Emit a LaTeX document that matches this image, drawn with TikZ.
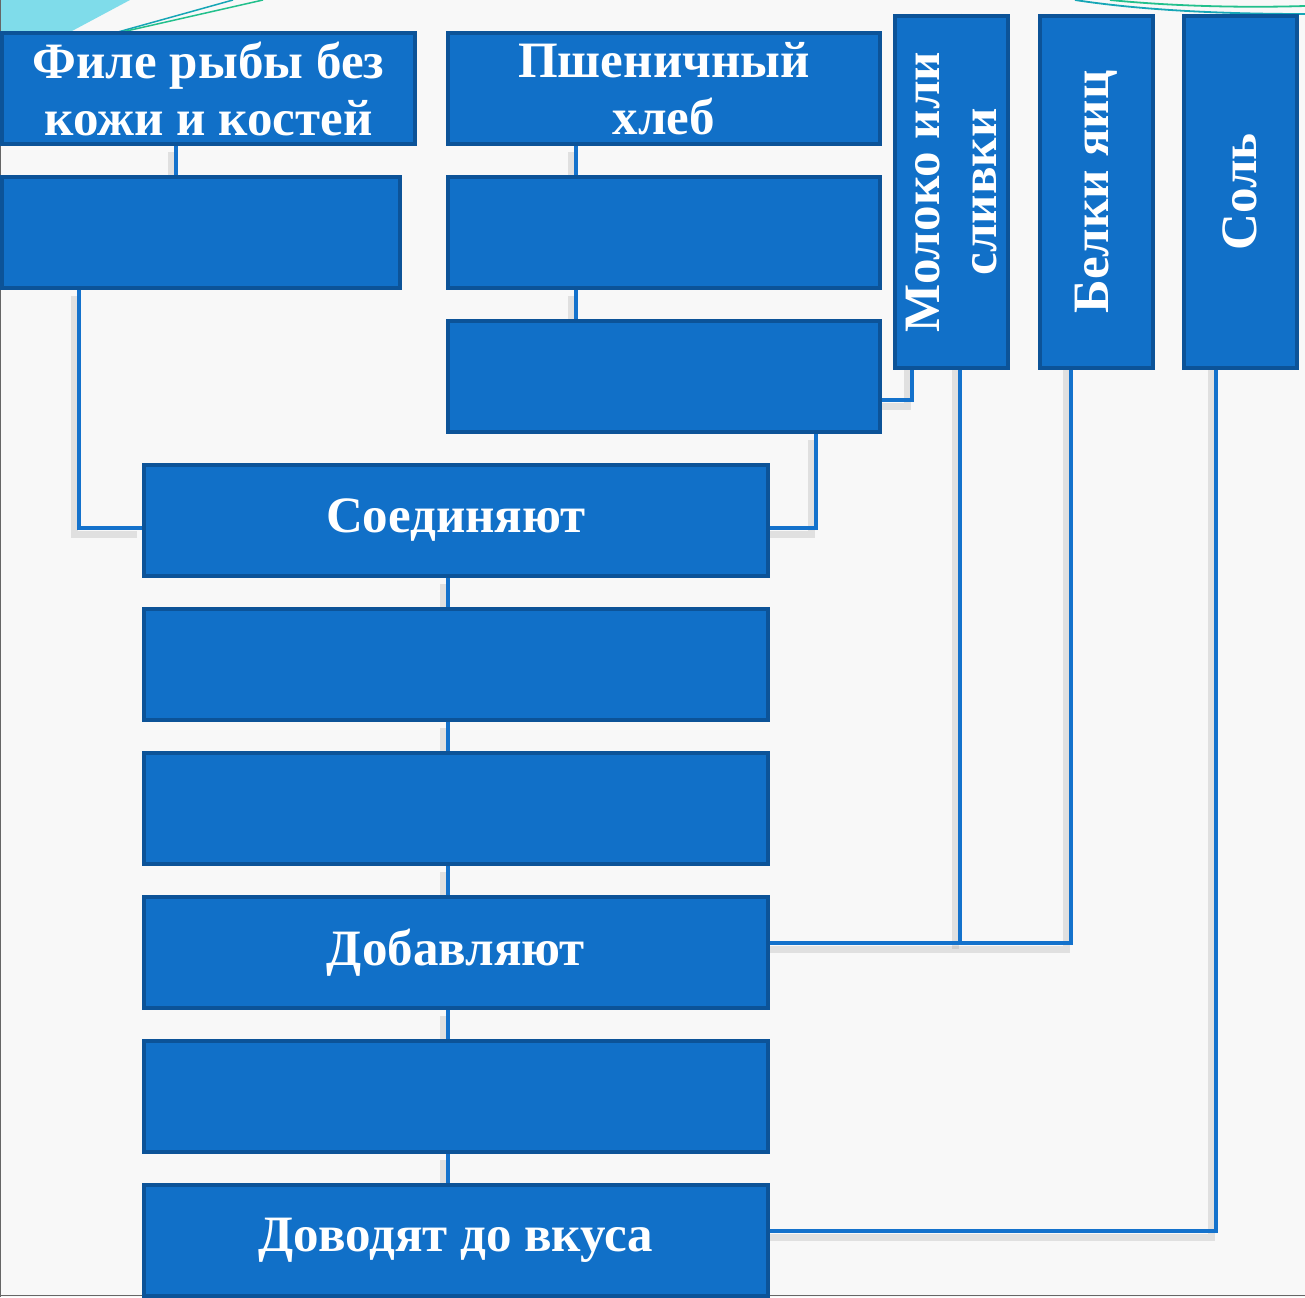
\documentclass[tikz,border=0pt]{standalone}
\usepackage{fontspec}
\setmainfont{Liberation Serif}
\usetikzlibrary{calc}
\definecolor{boxfill}{HTML}{1170C8}
\definecolor{boxline}{HTML}{0C5398}
\definecolor{wirecol}{HTML}{1472CC}
\definecolor{bgcol}{HTML}{F8F8F8}
\definecolor{cyanfill}{HTML}{7FDCEA}
\definecolor{tealline}{HTML}{16A6B6}
\definecolor{greenline}{HTML}{22C08C}
\pgfdeclarelayer{bg}
\pgfsetlayers{bg,main}
\tikzset{
  box/.style={draw=boxline, fill=boxfill, line width=4pt, inner sep=0pt,
    text=white, font=\fontsize{51}{57}\selectfont\bfseries, align=center},
  hbox/.style={box, minimum height=111pt},
  vbox/.style={box, rotate=90, minimum width=352pt, minimum height=113pt},
  wire/.style={draw=wirecol, line width=4pt},
  wshadow/.style={draw=black!45, line width=7pt, opacity=0.22, transform canvas={shift={(-5pt,-6pt)}}},
}
\begin{document}
\begin{tikzpicture}[x=1pt,y=-1pt]
\useasboundingbox (0,0) rectangle (1305,1297);
% nodes
\node[hbox, minimum width=413pt] (B1) at (208.5,88.5) {Филе рыбы без\\кожи и костей};
\node[hbox, minimum width=432pt] (B2) at (664,88.5) {Пшеничный\\хлеб};
\node[hbox, minimum width=398pt] (B3) at (201,232.5) {};
\node[hbox, minimum width=432pt] (B4) at (664,232.5) {};
\node[hbox, minimum width=432pt] (B5) at (664,376.5) {};
\node[vbox] (M) at (951.5,192) {Молоко или\\сливки};
\node[vbox] (Be) at (1096,192) {Белки яиц};
\node[vbox] (So) at (1240,192) {Соль};
\node[hbox, minimum width=624pt] (S1) at (456,520.5) {Соединяют};
\node[hbox, minimum width=624pt] (E1) at (456,664.5) {};
\node[hbox, minimum width=624pt] (E2) at (456,808.5) {};
\node[hbox, minimum width=624pt] (D) at (456,952.5) {Добавляют};
\node[hbox, minimum width=624pt] (E3) at (456,1096.5) {};
\node[hbox, minimum width=624pt] (V) at (456,1240.5) {Доводят до вкуса};
\coordinate (j1) at (960,943);
\begin{pgfonlayer}{bg}
  \fill[bgcol] (0,0) rectangle (1305,1297);
  \fill[cyanfill] (0,0) -- (130,0) -- (72,31) -- (0,31) -- cycle;
  \draw[tealline, line width=1.5pt] (100,37) -- (233,0);
  \draw[greenline, line width=1.5pt] (100,37) -- (263,0);
  \draw[tealline, line width=1.8pt] (1075,0) .. controls (1140,10) and (1220,14) .. (1305,14);
  \draw[greenline, line width=1.8pt] (1110,0) .. controls (1170,6) and (1240,8) .. (1305,6);
  \draw[black!60, line width=1.2pt] (0.6,0) -- (0.6,1297);
  \draw[black!60, line width=1.5pt] (0,1295.5) -- (1305,1295.5);
  % wires with shadows
  \foreach \s in {wshadow, wire} {
    \path[\s] (B1.south -| 176,0) -- (B3.north -| 176,0);
    \path[\s] (B2.south -| 576,0) -- (B4.north -| 576,0);
    \path[\s] (B4.south -| 576,0) -- (B5.north -| 576,0);
    \path[\s] (B3.south -| 79,0) |- (S1.west |- 0,528);
    \path[\s] (B5.south -| 816,0) |- (S1.east |- 0,528);
    \path[\s] (M.east -| 912,0) |- (B5.east |- 0,400);
    \path[\s] (M.east -| 960,0) -- (j1);
    \path[\s] (Be.east -| 1071,0) |- (D.east |- j1);
    \path[\s] (So.east -| 1216,0) |- (V.east |- 0,1231);
    \path[\s] (S1.south -| 448,0) -- (E1.north -| 448,0);
    \path[\s] (E1.south -| 448,0) -- (E2.north -| 448,0);
    \path[\s] (E2.south -| 448,0) -- (D.north -| 448,0);
    \path[\s] (D.south -| 448,0) -- (E3.north -| 448,0);
    \path[\s] (E3.south -| 448,0) -- (V.north -| 448,0);
  }
\end{pgfonlayer}
\end{tikzpicture}
\end{document}
